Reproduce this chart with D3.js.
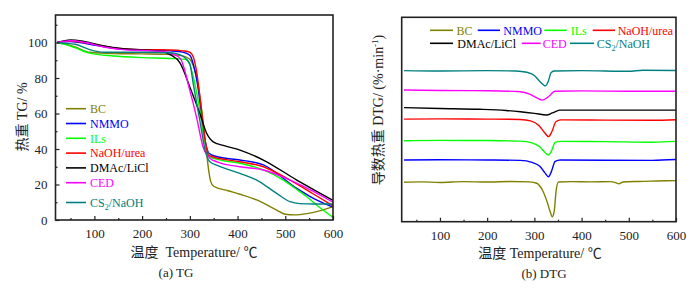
<!DOCTYPE html>
<html>
<head>
<meta charset="utf-8">
<script src="https://cdn.jsdelivr.net/npm/d3@7"></script>
<style>
  body { margin: 0; background: #fff; }
  svg text { font-family: "Liberation Serif", "Noto Sans CJK SC", serif; }
</style>
</head>
<body>
<div id="chart"></div>
<script>
"use strict";

// series names + colours (same order in both panels)
const seriesNames = ["BC", "NMMO", "ILs", "NaOH/urea", "DMAc/LiCl", "CED", "CS2/NaOH"];
const seriesColors = ["#808000", "#0000ff", "#00ff00", "#ff0000", "#000000", "#ff00ff", "#008080"];

// TG curves: [temperature, mass %]
const tgBC = [[22,100],[40,99],[60,97.5],[90,94.5],[140,93.8],[200,93.6],[250,93.4],[285,92.5],[300,90.5],[307,87],[314,81],[321,70],[328,55],[335,38],[340,27],[344,21.5],[350,19],[380,16.5],[405,14.5],[440,11.3],[482,5.6],[500,3.2],[520,2.9],[545,3.6],[570,5],[600,7.5]];
const tgNMMO = [[22,100],[50,100.6],[90,99],[140,96.8],[200,95.8],[260,95.3],[285,94.6],[300,92.8],[307,88],[318,73],[328,50.7],[335,41],[340,37.6],[360,35.5],[405,33.8],[454,31],[524,17.8],[560,12],[600,7.2]];
const tgILs = [[22,100],[40,98.8],[60,97],[90,94],[140,92.4],[200,91.5],[260,91],[290,90.5],[300,87.5],[307,80.7],[321,62],[332,43],[342,35.7],[360,34],[405,32],[454,28.2],[496,22.5],[520,18],[545,13.1],[570,7.5],[600,1.5]];
const tgUrea = [[22,100],[50,100.8],[90,99.5],[140,97],[200,96],[260,95.8],[285,95.3],[300,94.5],[307,92],[314,84],[321,69.5],[332,45],[339,36.6],[350,35.5],[405,32.8],[454,30],[510,22.5],[560,14.5],[600,8]];
const tgDMAc = [[22,100],[50,101.5],[80,100.5],[120,98],[160,96.5],[200,95.8],[240,95],[260,93],[280,88.3],[300,75],[321,60],[335,49],[349,44],[370,42],[405,39.4],[454,33.8],[524,22.5],[560,17],[600,11]];
const tgCED = [[22,100],[50,101],[80,100],[120,97.5],[160,96],[200,95.5],[240,95],[260,94],[280,91],[300,73],[314,58],[328,41],[342,34.8],[360,32.5],[405,30],[454,28.2],[510,22.5],[560,16],[600,10]];
const tgCS2 = [[22,100],[40,99.5],[60,99],[90,96],[120,94.5],[200,94.5],[260,94.2],[280,93],[300,88],[307,77],[321,56],[332,39.4],[342,32.8],[360,30.5],[405,26.3],[440,22.5],[482,15],[510,10.3],[530,9.2],[560,9],[600,9]];

// DTG curves (stacked, arbitrary offset units): [temperature, value]
const dtgBC = [[24,19.3],[60,19.5],[100,19.2],[150,19.6],[200,19.4],[250,19.7],[290,19.5],[305,18.8],[318,15],[328,9],[334,4.5],[338,2.4],[342,5],[346,15],[351,19.4],[380,19.6],[420,19.5],[460,19.6],[472,19.1],[479,18.5],[488,19.4],[520,19.7],[560,19.9],[600,20.1]];
const dtgNMMO = [[24,30.2],[100,30.3],[200,30.2],[270,30],[295,29],[312,27],[322,24],[330,22],[336,24.5],[344,29.5],[355,30.2],[450,30.1],[550,30],[600,30.4]];
const dtgILs = [[24,39.6],[100,39.8],[200,39.7],[270,39.4],[295,38.6],[312,36.5],[322,34],[330,32.6],[336,34.5],[344,38.8],[355,39.3],[450,39.2],[550,38.9],[600,39.3]];
const dtgUrea = [[24,50.2],[100,50.3],[200,50.2],[270,50],[292,49.3],[310,47],[322,43.5],[330,41.6],[337,44],[346,49],[356,49.8],[450,49.7],[550,49.6],[600,49.9]];
const dtgDMAc = [[24,55.8],[100,55.4],[185,55],[240,54.4],[270,53.8],[300,53],[326,52.2],[338,53.2],[354,54.6],[450,54.6],[600,54.6]];
const dtgCED = [[24,64.4],[100,64.2],[200,64.1],[270,63.6],[290,62.4],[305,60.6],[317,59.5],[328,60.8],[344,63.8],[400,64],[500,63.8],[600,63.8]];
const dtgCS2 = [[24,73.9],[100,73.7],[200,73.9],[260,73.7],[284,73.1],[300,71.5],[312,68.5],[324,66.5],[330,69],[335,72.8],[342,73.7],[400,73.9],[500,73.6],[530,74.1],[600,74]];

const tgData = [tgBC, tgNMMO, tgILs, tgUrea, tgDMAc, tgCED, tgCS2];
const dtgData = [dtgBC, dtgNMMO, dtgILs, dtgUrea, dtgDMAc, dtgCED, dtgCS2];

const xTicks = [100, 200, 300, 400, 500, 600];
const xMinor = [50, 150, 250, 350, 450, 550];
const yTicksTG = [0, 20, 40, 60, 80, 100];
const yMinorTG = [10, 30, 50, 70, 90, 110];

const svgWidth = 700, svgHeight = 291;

const svg = d3.select("#chart").append("svg")
    .attr("width", svgWidth)
    .attr("height", svgHeight);

// panel frames
const tgBox = { left: 55.5, right: 333, top: 15, bottom: 220 };
const dtgBox = { left: 401.7, right: 676, top: 17.3, bottom: 221.7 };

const xTG = d3.scaleLinear().domain([18.5, 600]).range([tgBox.left, tgBox.right]);
const yTG = d3.scaleLinear().domain([0, 115.5]).range([tgBox.bottom, tgBox.top]);
const xDTG = d3.scaleLinear().domain([19, 600]).range([dtgBox.left, dtgBox.right]);
const yDTG = d3.scaleLinear().domain([0, 100]).range([dtgBox.bottom, dtgBox.top]);

// draw curves
function drawCurves(data, x, y) {
    const line = d3.line()
        .x(d => x(d[0]))
        .y(d => y(d[1]))
        .curve(d3.curveMonotoneX);

    svg.append("g")
        .selectAll("path")
        .data(data)
        .enter()
        .append("path")
        .attr("d", line)
        .attr("fill", "none")
        .attr("stroke", (d, i) => seriesColors[i])
        .attr("stroke-width", 1.4);
}

// frame + inward ticks
function drawFrame(box, x, y, yMajor, yMinorVals) {
    const g = svg.append("g");

    // bottom ticks
    g.append("g")
        .attr("transform", `translate(0,${box.bottom})`)
        .call(d3.axisBottom(x).tickValues(xTicks).tickSizeInner(-4).tickSizeOuter(0).tickPadding(9))
        .call(a => a.select(".domain").remove())
        .call(a => a.selectAll("text").attr("font-size", 13).attr("fill", "#222"));

    g.append("g")
        .attr("transform", `translate(0,${box.bottom})`)
        .call(d3.axisBottom(x).tickValues(xMinor).tickSize(-2).tickFormat(""))
        .call(a => a.select(".domain").remove());

    if (yMajor) {
        g.append("g")
            .attr("transform", `translate(${box.left},0)`)
            .call(d3.axisLeft(y).tickValues(yMajor).tickSizeInner(-4).tickSizeOuter(0).tickPadding(8))
            .call(a => a.select(".domain").remove())
            .call(a => a.selectAll("text").attr("font-size", 13).attr("fill", "#222"));

        g.append("g")
            .attr("transform", `translate(${box.left},0)`)
            .call(d3.axisLeft(y).tickValues(yMinorVals).tickSize(-2).tickFormat(""))
            .call(a => a.select(".domain").remove());
    }

    g.selectAll("line").attr("stroke", "#222").attr("stroke-width", 1.2);

    g.append("rect")
        .attr("x", box.left)
        .attr("y", box.top)
        .attr("width", box.right - box.left)
        .attr("height", box.bottom - box.top)
        .attr("fill", "none")
        .attr("stroke", "#222")
        .attr("stroke-width", 1.6);
}

drawCurves(tgData, xTG, yTG);
drawCurves(dtgData, xDTG, yDTG);
drawFrame(tgBox, xTG, yTG, yTicksTG, yMinorTG);
drawFrame(dtgBox, xDTG, yDTG, null, null);

// legend label (handles CS2 subscript)
function addLabel(g, name, x, y, color) {
    const t = g.append("text")
        .attr("x", x)
        .attr("y", y)
        .attr("dy", "0.35em")
        .attr("font-size", 12)
        .attr("fill", color);
    if (name === "CS2/NaOH") {
        t.append("tspan").text("CS");
        t.append("tspan").text("2").attr("font-size", 8).attr("dy", 3);
        t.append("tspan").text("/NaOH").attr("dy", -3);
    } else {
        t.text(name);
    }
}

// TG legend: vertical list, extra gap before last entry
const tgLegend = svg.append("g");
seriesNames.forEach((name, i) => {
    const ly = 108.7 + i * 14.8 + (i === 6 ? 5 : 0);
    tgLegend.append("line")
        .attr("x1", 66).attr("x2", 86)
        .attr("y1", ly).attr("y2", ly)
        .attr("stroke", seriesColors[i])
        .attr("stroke-width", 1.6);
    addLabel(tgLegend, name, 90, ly, seriesColors[i]);
});

// DTG legend: two rows
const dtgLegendPos = [
    [430, 453, 456.5, 30.3], [477.7, 500, 503.3, 30.3], [544.3, 566.7, 570.7, 30.3], [592.7, 615, 617.7, 30.3],
    [430, 453, 457.3, 43.3], [521.7, 540.7, 542.7, 43.3], [570, 594, 596.7, 43.3]
];
const dtgLegend = svg.append("g");
seriesNames.forEach((name, i) => {
    const p = dtgLegendPos[i];
    dtgLegend.append("line")
        .attr("x1", p[0]).attr("x2", p[1])
        .attr("y1", p[3]).attr("y2", p[3])
        .attr("stroke", seriesColors[i])
        .attr("stroke-width", 1.6);
    addLabel(dtgLegend, name, p[2], p[3], seriesColors[i]);
});

// axis titles
svg.append("text")
    .attr("transform", "translate(27,117) rotate(-90)")
    .attr("text-anchor", "middle")
    .attr("font-size", 14)
    .attr("fill", "#222")
    .text("热重 TG/ %");

const dtgY = svg.append("text")
    .attr("transform", "translate(383,110) rotate(-90)")
    .attr("text-anchor", "middle")
    .attr("font-size", 14)
    .attr("fill", "#222");
dtgY.append("tspan").text("导数热重 DTG/ (%·min");
dtgY.append("tspan").text("-1").attr("font-size", 9).attr("dy", -5);
dtgY.append("tspan").text(")").attr("dy", 5);

svg.append("text")
    .attr("x", 194).attr("y", 257)
    .attr("text-anchor", "middle")
    .attr("font-size", 14)
    .attr("fill", "#222")
    .attr("xml:space", "preserve")
    .text("温度  Temperature/ ℃");

svg.append("text")
    .attr("x", 540).attr("y", 258)
    .attr("text-anchor", "middle")
    .attr("font-size", 14)
    .attr("fill", "#222")
    .text("温度 Temperature/ ℃");

svg.append("text")
    .attr("x", 176).attr("y", 277)
    .attr("text-anchor", "middle")
    .attr("font-size", 13)
    .attr("fill", "#222")
    .text("(a) TG");

svg.append("text")
    .attr("x", 544).attr("y", 278)
    .attr("text-anchor", "middle")
    .attr("font-size", 13)
    .attr("fill", "#222")
    .text("(b) DTG");
</script>
</body>
</html>
